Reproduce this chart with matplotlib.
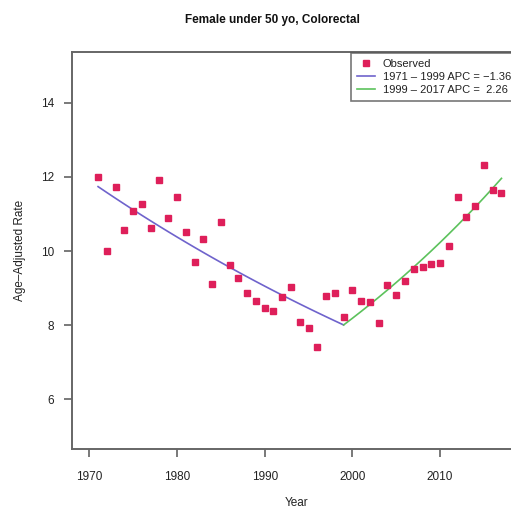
import numpy as np
import matplotlib
matplotlib.use("Agg")
import matplotlib.pyplot as plt

plt.rcParams['font.family'] = ['Liberation Sans', 'DejaVu Sans']

years = list(range(1971, 2018))
observed = [12.00, 10.01, 11.74, 10.58, 11.09, 11.26, 10.61, 11.92, 10.90, 11.47,
            10.50, 9.70, 10.32, 9.10, 10.78, 9.62, 9.28, 8.87, 8.65, 8.47,
            8.38, 8.77, 9.03, 8.07, 7.91, 7.41, 8.79, 8.87, 8.21, 8.95,
            8.64, 8.62, 8.05, 9.09, 8.80, 9.19, 9.50, 9.58, 9.66, 9.68,
            10.13, 11.46, 10.91, 11.22, 12.33, 11.65, 11.58]

seg1_years = (1971, 1999)
seg2_years = (1999, 2017)
fit_start = 11.74
apc1 = -1.36
apc2 = 2.26

xticks = [1970, 1980, 1990, 2000, 2010]
yticks = [6, 8, 10, 12, 14]
title = "Female under 50 yo, Colorectal"
xlabel = "Year"
ylabel = "Age\u2013Adjusted Rate"
leg_obs = "Observed"
leg1 = "1971 \u2013 1999 APC = \u22121.36 ^"
leg2 = "1999 \u2013 2017 APC =  2.26 ^"

# fitted joinpoint segments (log-linear model from APC)
t1 = np.arange(seg1_years[0], seg1_years[1] + 1)
f1 = fit_start * (1 + apc1 / 100.0) ** (t1 - seg1_years[0])
t2 = np.arange(seg2_years[0], seg2_years[1] + 1)
f2 = f1[-1] * (1 + apc2 / 100.0) ** (t2 - seg2_years[0])

W = H = 511
fig = plt.figure(figsize=(W / 100, H / 100), dpi=100)
left, right, bottom, top = 72, 530, 449, 52
ax = fig.add_axes([left / W, 1 - bottom / H, (right - left) / W, (bottom - top) / H])

ppy = 8.77
x0 = 1970 - (89.3 - left) / ppy
x1 = 1970 + (right - 89.3) / ppy
ax.set_xlim(x0, x1)
ppu = 37.0
ax.set_ylim(12 - (bottom - 177) / ppu, 12 + (177 - top) / ppu)

l1, = ax.plot(t1, f1, color="#6f63cc", lw=1.2, zorder=2)
l2, = ax.plot(t2, f2, color="#5cc25c", lw=1.2, zorder=2)
sc, = ax.plot(years, observed, ls='none', marker='s', ms=4.9, color="#de1f5a",
              mec="#de1f5a", zorder=3)

ax.set_xticks(xticks)
ax.set_yticks(yticks)
ax.tick_params(axis='both', direction='out', length=6, width=1.1, color="#555555",
               labelsize=8.5, labelcolor="#222222")
ax.tick_params(axis='x', pad=10)
ax.tick_params(axis='y', pad=7)
for s in ax.spines.values():
    s.set_color("#666666")
    s.set_linewidth(1.4)

fig.text(272 / W, 1 - 20 / H, title, ha='center', va='center', fontsize=8.5,
         fontweight='bold', color="#111111")
fig.text(297 / W, 1 - 503 / H, xlabel, ha='center', va='center', fontsize=8.5,
         color="#222222")
fig.text(20 / W, 1 - 250 / H, ylabel, ha='center', va='center', rotation=90,
         fontsize=8.5, color="#222222")

leg = fig.legend([sc, l1, l2], [leg_obs, leg1, leg2], loc='upper left',
                 bbox_to_anchor=(351 / W, 1 - 53 / H), fontsize=8,
                 frameon=True, fancybox=False, borderaxespad=0,
                 handlelength=1.6, handletextpad=0.7, labelspacing=0.28,
                 borderpad=0.55, markerscale=0.8)
leg.get_frame().set_edgecolor("#555555")
leg.get_frame().set_linewidth(1.2)
for t in leg.get_texts():
    t.set_color("#222222")

fig.savefig("out.png", dpi=100)
